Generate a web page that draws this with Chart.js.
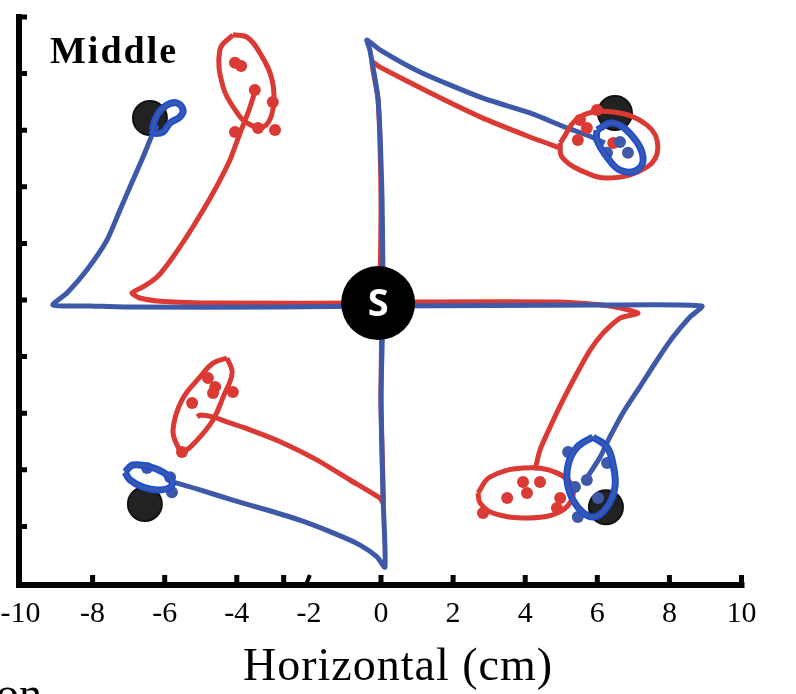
<!DOCTYPE html>
<html>
<head>
<meta charset="utf-8">
<script src="https://cdn.jsdelivr.net/npm/chart.js@4.4.1/dist/chart.umd.min.js"></script>
<style>
  html, body { margin: 0; padding: 0; background: #fff; }
  #wrap { width: 796px; height: 694px; position: relative; }
</style>
</head>
<body>
<div id="wrap"><canvas id="middle-chart"></canvas></div>
<script>
// axis ticks (cm)
const xTicks = [-10, -8, -6, -4, -2, 0, 2, 4, 6, 8, 10];
const yTicks = [-8, -6, -4, -2, 0, 2, 4, 6, 8, 10];
const xStrayTick = -2.7;

// start position and the four targets
const startPoint = [[-0.08, -0.11]];
const targets = [[-6.41, 6.43], [6.49, 6.61], [-6.55, -7.21], [6.24, -7.32]];

// red traces
const redTraceUL = [[0, -0.11], [-4.55, -0.11], [-6.13, -0.04], [-6.69, 0.07], [-6.91, 0.25], [-6.60, 0.46], [-6.21, 0.81], [-5.77, 1.52], [-5.22, 2.58], [-4.66, 3.78], [-4.19, 4.95], [-3.91, 5.90], [-3.69, 6.61], [-3.50, 7.35]];
const redTraceUR = [[-0.03, -0.11], [0, 3.53], [-0.08, 7.07], [-0.25, 8.41], [-0.03, 8.23], [1.36, 7.32], [2.75, 6.47], [4.13, 5.76], [4.97, 5.37]];
const redTraceLR = [[0.06, -0.07], [4.97, -0.07], [6.35, -0.21], [7.13, -0.46], [6.63, -0.64], [6.16, -1.17], [5.80, -1.77], [5.44, -2.58], [5.05, -3.53], [4.69, -4.49], [4.41, -5.30], [4.27, -6.01]];
const redTraceLL = [[0.03, -0.11], [0, -3.53], [0.06, -7.17], [-0.03, -7.00], [-0.86, -6.36], [-1.78, -5.65], [-2.72, -5.05], [-3.63, -4.59], [-4.27, -4.31], [-4.66, -4.13], [-5.02, -4.06], [-5.10, -4.13]];

// red end-point ellipses
const redEllipseUL = [[-4.11, 9.37], [-4.47, 8.84], [-4.38, 7.53], [-3.99, 6.61], [-3.72, 6.26], [-3.27, 6.11], [-3.00, 6.71], [-3.02, 7.77], [-3.36, 8.73], [-3.72, 9.29], [-4.11, 9.37]];
const redEllipseUR = [[4.97, 5.55], [5.52, 6.47], [6.44, 6.64], [7.38, 6.18], [7.68, 5.41], [7.38, 4.70], [6.35, 4.31], [5.52, 4.59], [5.02, 5.05], [4.97, 5.55]];
const redEllipseLR = [[2.69, -6.82], [3.02, -6.26], [3.94, -5.94], [4.88, -6.11], [5.33, -6.71], [5.05, -7.42], [4.13, -7.70], [3.11, -7.53], [2.75, -7.17], [2.69, -6.82]];
const redEllipseLL = [[-4.27, -2.05], [-4.13, -2.58], [-4.38, -3.43], [-4.66, -4.24], [-5.10, -4.95], [-5.49, -5.37], [-5.63, -5.20], [-5.77, -4.59], [-5.52, -3.53], [-5.02, -2.72], [-4.66, -2.23], [-4.27, -2.05]];

// red end points
const redDots = [[-4.05, 8.38], [-3.88, 8.27], [-3.50, 7.42], [-3.00, 7.00], [-4.05, 5.94], [-3.41, 6.08], [-2.94, 6.01],
  [5.99, 6.71], [5.52, 6.36], [5.71, 6.08], [5.46, 5.65], [6.44, 5.55],
  [2.83, -7.53], [3.50, -7.00], [4.05, -6.82], [3.94, -6.43], [4.41, -6.43], [4.97, -7.00], [4.88, -7.35],
  [-4.80, -2.76], [-4.60, -3.07], [-4.66, -3.29], [-4.11, -3.25], [-5.24, -3.64], [-5.52, -5.37]];

// blue traces
const blueTraceUL = [[0, -0.21], [-2.80, -0.25], [-6.96, -0.25], [-8.07, -0.21], [-9.10, -0.18], [-8.71, 0.25], [-8.16, 1.06], [-7.60, 2.12], [-7.24, 3.18], [-6.88, 4.24], [-6.60, 5.05], [-6.35, 5.83], [-6.21, 6.18]];
const blueTraceUR = [[0.06, -0.11], [0.03, 3.53], [-0.08, 7.07], [-0.31, 8.84], [-0.39, 9.19], [-0.03, 8.84], [1.08, 8.06], [2.75, 7.17], [4.13, 6.61], [5.16, 6.08], [5.71, 5.83], [6.21, 5.55]];
const blueTraceLR = [[0.06, -0.21], [6.08, -0.18], [8.90, -0.21], [8.57, -0.60], [8.10, -1.31], [7.66, -2.12], [7.18, -3.07], [6.71, -3.99], [6.35, -4.84], [6.08, -5.55], [5.80, -6.11], [5.66, -6.36]];
const blueTraceLL = [[0.06, -0.21], [0, -3.53], [0.06, -7.07], [0.11, -9.44], [-0.11, -9.08], [-0.58, -8.66], [-1.33, -8.23], [-2.25, -7.78], [-3.16, -7.42], [-4.11, -7.07], [-5.02, -6.71], [-5.66, -6.47], [-5.85, -6.43]];

// blue end-point ellipses
const blueEllipseUL = [[-6.35, 6.01], [-6.21, 6.54], [-5.94, 6.89], [-5.66, 6.96], [-5.49, 6.71], [-5.58, 6.47], [-5.85, 6.26], [-6.05, 5.94], [-6.32, 5.90], [-6.35, 6.01]];
const blueEllipseUR = [[5.99, 6.01], [6.44, 6.26], [6.99, 5.76], [7.27, 5.05], [7.10, 4.59], [6.63, 4.59], [6.27, 5.05], [5.99, 5.65], [5.99, 6.01]];
const blueEllipseLR = [[5.88, -4.84], [6.27, -5.20], [6.44, -5.83], [6.49, -6.61], [6.27, -7.32], [5.88, -7.67], [5.46, -7.32], [5.19, -6.61], [5.19, -5.83], [5.44, -5.20], [5.88, -4.84]];
const blueEllipseLL = [[-7.10, -6.08], [-6.88, -5.83], [-6.41, -5.90], [-5.94, -6.18], [-5.80, -6.54], [-6.13, -6.71], [-6.60, -6.61], [-6.96, -6.36], [-7.10, -6.08]];

// blue end points
const blueDots = [[6.63, 5.58], [6.85, 5.20], [6.27, 5.20],
  [5.19, -5.37], [5.71, -6.36], [6.27, -5.76], [6.02, -7.00], [5.46, -7.67], [5.38, -6.61],
  [-5.85, -6.26], [-5.80, -6.79], [-6.49, -5.94]];

const RED = '#da3a33';
const BLUE = '#3d59a8';
const BRIGHT_BLUE = '#1d4fd6';
const SERIF = '"Liberation Serif", "Times New Roman", serif';

function pts(arr) {
    return arr.map(p => ({ x: p[0], y: p[1] }));
}

function trace(arr, color, order) {
    return { data: pts(arr), showLine: true, borderColor: color, borderWidth: 5, pointRadius: 0, tension: 0.2, order: order, clip: false };
}

function loop(arr, color, width, order) {
    return { data: pts(arr), showLine: true, borderColor: color, borderWidth: width, pointRadius: 0, tension: 0.4, order: order, clip: false };
}

function dots(arr, color, order) {
    return { data: pts(arr), pointRadius: 6, pointBackgroundColor: color, pointBorderWidth: 0, order: order, clip: false };
}

// axis lines, inward ticks, labels that sit outside the plot
const framePlugin = {
    id: 'frame',
    afterDraw(chart) {
        const ctx = chart.ctx;
        const xs = chart.scales.x;
        const ys = chart.scales.y;
        const axisX = 19, axisY = 585;
        ctx.save();
        ctx.strokeStyle = '#000';
        ctx.lineCap = 'butt';

        ctx.lineWidth = 6;
        ctx.beginPath();
        ctx.moveTo(axisX, 14);
        ctx.lineTo(axisX, axisY + 3);
        ctx.moveTo(axisX - 3, axisY);
        ctx.lineTo(xs.getPixelForValue(10) + 3, axisY);
        ctx.stroke();

        ctx.lineWidth = 5;
        ctx.beginPath();
        yTicks.forEach(v => {
            const py = ys.getPixelForValue(v);
            ctx.moveTo(axisX, py);
            ctx.lineTo(axisX + 8, py);
        });
        xTicks.slice(1).forEach(v => {
            if (v === -2) return;
            const px = xs.getPixelForValue(v);
            ctx.moveTo(px, axisY);
            ctx.lineTo(px, axisY - 10);
        });
        const stray = xs.getPixelForValue(xStrayTick);
        ctx.moveTo(stray, axisY);
        ctx.lineTo(stray, axisY - 10);
        ctx.stroke();

        // the -2 tick is drawn slanted in the original
        const m2 = xs.getPixelForValue(-2);
        ctx.lineWidth = 4;
        ctx.beginPath();
        ctx.moveTo(m2 - 3, axisY);
        ctx.lineTo(m2 + 1, axisY - 10);
        ctx.stroke();

        // start marker letter
        const sx = xs.getPixelForValue(startPoint[0][0]);
        const sy = ys.getPixelForValue(startPoint[0][1]);
        ctx.fillStyle = '#fff';
        ctx.font = 'bold 38px "Open Sans", sans-serif';
        ctx.textAlign = 'center';
        ctx.textBaseline = 'middle';
        ctx.fillText('S', sx, sy + 2);

        // panel label
        ctx.fillStyle = '#000';
        ctx.textAlign = 'left';
        ctx.textBaseline = 'alphabetic';
        ctx.font = 'bold 38px ' + SERIF;
        ctx.letterSpacing = '2px';
        ctx.fillText('Middle', 50, 63);
        ctx.letterSpacing = '0px';

        // axis title
        ctx.font = '46px ' + SERIF;
        ctx.textAlign = 'center';
        ctx.letterSpacing = '1px';
        ctx.fillText('Horizontal (cm)', 398, 680);
        ctx.letterSpacing = '0px';

        // start of the caption below, cut off by the frame
        ctx.textAlign = 'left';
        ctx.fillText('on', -4, 709);
        ctx.restore();
    }
};

function noPadding(scale) {
    scale.paddingLeft = 0;
    scale.paddingRight = 0;
    scale.paddingTop = 0;
    scale.paddingBottom = 0;
}

const chart = new Chart(document.getElementById('middle-chart'), {
    type: 'scatter',
    data: {
        datasets: [
            { data: pts(startPoint), pointRadius: 37, pointBackgroundColor: '#000', pointBorderWidth: 0, order: 0, clip: false },
            loop(blueEllipseUL, BLUE, 3, 1), loop(blueEllipseUR, BLUE, 3, 1), loop(blueEllipseLR, BLUE, 3, 1), loop(blueEllipseLL, BLUE, 3, 1),
            loop(blueEllipseUL, BRIGHT_BLUE, 7, 2), loop(blueEllipseUR, BRIGHT_BLUE, 7, 2), loop(blueEllipseLR, BRIGHT_BLUE, 7, 2), loop(blueEllipseLL, BRIGHT_BLUE, 7, 2),
            dots(blueDots, BLUE, 3),
            dots(redDots, RED, 4),
            loop(redEllipseUL, RED, 5, 5), loop(redEllipseUR, RED, 5, 5), loop(redEllipseLR, RED, 5, 5), loop(redEllipseLL, RED, 5, 5),
            trace(blueTraceUL, BLUE, 6), trace(blueTraceUR, BLUE, 6), trace(blueTraceLR, BLUE, 6), trace(blueTraceLL, BLUE, 6),
            trace(redTraceUL, RED, 7), trace(redTraceUR, RED, 7), trace(redTraceLR, RED, 7), trace(redTraceLL, RED, 7),
            { data: pts(targets), pointRadius: 17, pointBackgroundColor: '#222', pointBorderColor: '#111', pointBorderWidth: 2, order: 9, clip: false }
        ]
    },
    options: {
        responsive: true,
        maintainAspectRatio: false,
        animation: false,
        events: [],
        layout: { autoPadding: false, padding: { left: 20.5, right: 54.5, top: 17, bottom: 0 } },
        plugins: { legend: { display: false }, tooltip: { enabled: false } },
        scales: {
            x: {
                type: 'linear',
                min: -10,
                max: 10,
                afterBuildTicks: scale => { scale.ticks = xTicks.map(v => ({ value: v })); },
                afterFit: scale => { scale.height = 111; noPadding(scale); },
                grid: { display: false, drawTicks: false },
                border: { display: false },
                ticks: { color: '#000', font: { family: SERIF, size: 30 }, padding: 13, maxRotation: 0, autoSkip: false }
            },
            y: {
                type: 'linear',
                display: false,
                min: -10,
                max: 10
            }
        }
    },
    plugins: [framePlugin]
});
</script>
</body>
</html>
